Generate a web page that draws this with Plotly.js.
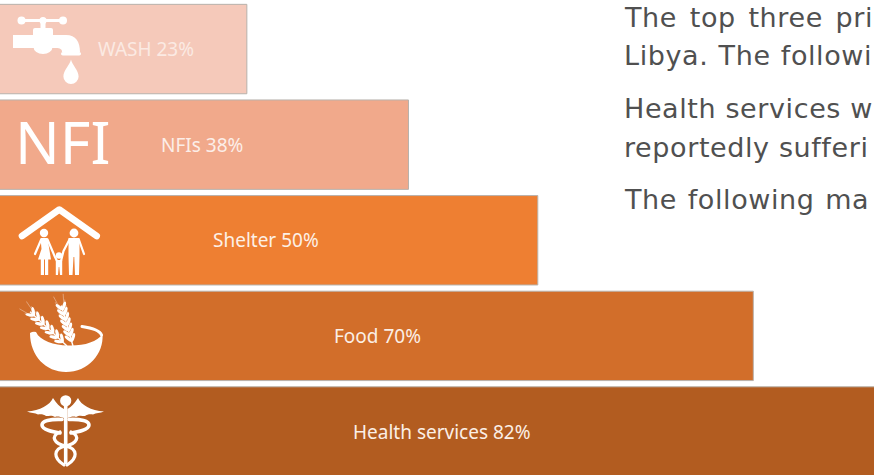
<!DOCTYPE html>
<html>
<head>
<meta charset="utf-8">
<script src="https://cdn.plot.ly/plotly-3.0.1.min.js"></script>
<style>
  html, body { margin: 0; padding: 0; background: #fff; overflow: hidden; }
  #chart { width: 874px; height: 475px; }
</style>
</head>
<body>
<div id="chart"></div>
<script>
// Priority needs, lowest row of the staircase first
const sectors = ['Health services', 'Food', 'Shelter', 'NFIs', 'WASH'];
const shares = [82, 70, 50, 38, 23];
const barColors = ['#B25C20', '#D26E2A', '#EE7F32', '#F1A98B', '#F5C9BA'];
const labelColors = ['#FBEFE6', '#FBEFE6', '#FDF0E6', '#FCEEE8', '#FBEAE3'];
const labelShifts = [1, 1, -2, -2, 23];

const bodyLines = [
  'The top three pri',
  'Libya. The followi',
  'Health services w',
  'reportedly sufferi',
  'The following ma'
];
const bodyLineTops = [1, 39, 92, 131, 183];
const bodyWordGaps = [3.5, 1, 0, 0, 1.5];

const W = 874, H = 475;
const PX_PER_UNIT = 10.776;
const LEFT_BLEED_PX = 1;

// Builds one wheat ear along a straight spine, grains and awns mirrored on both sides
function wheatEar(x0, y0, x1, y1, n) {
  const dx = x1 - x0, dy = y1 - y0;
  const base = Math.atan2(dy, dx);
  let out = `<path d="M${x0},${y0} L${x0 + dx * 0.9},${y0 + dy * 0.9}" stroke="#fff" stroke-width="1.4" fill="none"/>`;
  for (let i = 0; i < n; i++) {
    const t = 0.1 + 0.7 * i / (n - 1);
    const px = x0 + dx * t, py = y0 + dy * t;
    for (const side of [-1, 1]) {
      const a = base + side * 0.6;
      const cx = px + Math.cos(a) * 4.2, cy = py + Math.sin(a) * 4.2;
      const deg = a * 180 / Math.PI;
      out += `<ellipse cx="${cx}" cy="${cy}" rx="4.6" ry="1.6" fill="#fff" transform="rotate(${deg} ${cx} ${cy})"/>`;
      const b = base + side * 0.22;
      const r = 9 + 4 * t;
      out += `<path d="M${cx},${cy} L${cx + Math.cos(b) * r},${cy + Math.sin(b) * r}" stroke="#fff" stroke-width="0.6" opacity="0.6"/>`;
    }
  }
  return out;
}

const tapIcon = `
  <g fill="#fff">
    <rect x="20" y="19" width="44" height="3"/>
    <circle cx="21.5" cy="20.5" r="4"/><circle cx="43" cy="20.5" r="3.6"/><circle cx="63" cy="20.5" r="4"/>
    <rect x="40.5" y="20" width="5" height="9"/>
    <path d="M33,35 L33,30 Q33,28 35,28 L51,28 Q53,28 53,30 L53,35 Z"/>
    <path d="M13,35 L66,35 C76,35 80,42 80,52 L62,52 C62,49 60,48 56,48 L13,48 Z"/>
    <ellipse cx="43" cy="47" rx="9.5" ry="7"/>
    <rect x="61" y="52" width="20" height="3.6" rx="1.8"/>
    <path d="M71,59.5 C72,65 78.6,70 78.6,76.5 A7.6,7.6 0 0 1 63.4,76.5 C63.4,70 70,65 71,59.5 Z"/>
  </g>`;

const familyIcon = `
  <path d="M22,236 L59.3,209.5 L96.7,236" fill="none" stroke="#fff" stroke-width="6.6" stroke-linecap="round" stroke-linejoin="round"/>
  <g fill="#fff">
    <circle cx="44" cy="233" r="4.2"/>
    <path d="M40.5,238 L47.5,238 L51,259.5 L38,259.5 L41.5,249 Z"/>
    <rect x="40.8" y="259" width="3.2" height="16"/><rect x="45" y="259" width="3.2" height="16"/>
    <circle cx="74" cy="233" r="4.4"/>
    <path d="M68.5,238 L79.5,238 L79.5,256 L79,275 L75,275 L74.3,257 L73.5,257 L72.5,275 L69,275 L68.5,256 Z"/>
    <circle cx="59" cy="255.5" r="3.2"/>
    <path d="M55.8,260 L62.2,260 L62.2,275 L60,275 L59.3,267 L58.7,267 L58,275 L55.8,275 Z"/>
  </g>
  <g fill="none" stroke="#fff" stroke-width="2.2" stroke-linecap="round" stroke-linejoin="round">
    <path d="M41,240 L35,254"/>
    <path d="M47.5,239.5 L55,257 L57,261"/>
    <path d="M69.5,239.5 L63.5,251 L61,261"/>
    <path d="M79,240 L84,254"/>
  </g>`;

const bowlIcon = wheatEar(67, 346, 26, 308, 7) + wheatEar(73, 346, 60, 301, 7) + `
  <path d="M82,326.5 C92,328 100,331 101.5,335" fill="none" stroke="#fff" stroke-width="3" stroke-linecap="round"/>
  <path d="M30,333 Q33,331 36,332 C40,341 54,345 68,345.5 C84,346 97,342 102.5,334 C104,354 88,372 66,372 C46,372 30,356 30,333 Z" fill="#fff"/>`;

const caduceusIcon = `
  <g fill="#fff">
    <circle cx="65.7" cy="400.8" r="5.6"/>
    <path d="M27,411.5 C40,410.5 50,405 53,398 C56,403 60,407 64,409 L64,418 C60,417 58,416 55,417 C52,415 49,416 46,416 C44,414 40,414 38,414.5 C35,413 31,413 27,411.5 Z"/>
    <path d="M104,411.5 C91,410.5 81,405 78,398 C75,403 71,407 67.4,409 L67.4,418 C71,417 73,416 76,417 C79,415 82,416 85,416 C87,414 91,414 93,414.5 C96,413 100,413 104,411.5 Z"/>
    <rect x="63.9" y="406" width="3.6" height="58"/>
  </g>
  <g fill="none" stroke="#fff" stroke-linecap="round">
    <path d="M62,419.5 C50,419 42,421 42,425 C42,430 54,432 60,433" stroke-width="3.6"/>
    <path d="M69,419.5 C81,419 89,421 89,425 C89,430 77,432 71,433" stroke-width="3.6"/>
    <path d="M60,432 C50,436 54,444 66,446 C78,449 78,458 67,465" stroke-width="3.2"/>
    <path d="M71,432 C81,436 77,444 65,446 C53,449 53,458 64,465" stroke-width="3.2"/>
  </g>`;

// Each icon is drawn in page units and placed through its own viewBox
function icon(markup, x, y, w, h) {
  const svg = `<svg xmlns="http://www.w3.org/2000/svg" width="${w * 3}" height="${h * 3}" viewBox="${x} ${y} ${w} ${h}">${markup}</svg>`;
  return {
    source: 'data:image/svg+xml;charset=utf-8,' + encodeURIComponent(svg),
    xref: 'paper', yref: 'paper', xanchor: 'left', yanchor: 'top',
    x: x / W, y: 1 - y / H, sizex: w / W, sizey: h / H, sizing: 'stretch', layer: 'above'
  };
}

const FONT = '"Noto Sans", "Open Sans", sans-serif';
const BODY_FONT = '"DejaVu Sans", "Noto Sans", sans-serif';

const barLabels = sectors.map((name, i) => ({
  xref: 'x', yref: 'y', x: shares[i] / 2, y: i, xshift: labelShifts[i],
  text: `${name} ${shares[i]}%`, showarrow: false,
  font: { family: FONT, size: 19, color: labelColors[i] }
}));

const bodyText = bodyLines.map((line, i) => ({
  xref: 'paper', yref: 'paper', xanchor: 'left', yanchor: 'top', align: 'left',
  x: 623 / W, y: 1 - bodyLineTops[i] / H,
  text: line, showarrow: false, borderpad: 0,
  font: { family: BODY_FONT, size: 27, color: '#505050' }
}));

const nfiMark = {
  xref: 'paper', yref: 'paper', xanchor: 'left', yanchor: 'middle',
  x: 13 / W, y: 1 - 141 / H, text: 'NFI', showarrow: false,
  font: { family: FONT, size: 59, color: '#FFFFFF' }
};

const trace = {
  type: 'bar', orientation: 'h',
  y: sectors.map((_, i) => i), x: shares, width: 0.935,
  marker: { color: barColors, line: { color: '#B8B2AC', width: 1 } },
  hoverinfo: 'skip'
};

const layout = {
  width: W, height: H,
  margin: { l: 0, r: 0, t: 0, b: 0 },
  paper_bgcolor: '#fff', plot_bgcolor: '#fff',
  showlegend: false,
  xaxis: {
    range: [LEFT_BLEED_PX / PX_PER_UNIT, (W + LEFT_BLEED_PX) / PX_PER_UNIT],
    visible: false, fixedrange: true
  },
  yaxis: { range: [-0.455, 4.513], visible: false, fixedrange: true },
  annotations: [...barLabels, nfiMark, ...bodyText],
  images: [
    icon(tapIcon, 10, 12, 75, 76),
    icon(familyIcon, 15, 203, 90, 76),
    icon(bowlIcon, 10, 290, 98, 86),
    icon(caduceusIcon, 24, 392, 84, 76)
  ]
};

Plotly.newPlot('chart', [trace], layout, { displayModeBar: false, staticPlot: true }).then(() => {
  // The paragraph lines are justified, so their word gaps differ line by line
  document.querySelectorAll('.annotation-text').forEach(node => {
    const i = bodyLines.indexOf(node.textContent);
    if (i >= 0) {
      node.style.letterSpacing = '0.6px';
      node.style.wordSpacing = bodyWordGaps[i] + 'px';
    }
  });
});
</script>
</body>
</html>
